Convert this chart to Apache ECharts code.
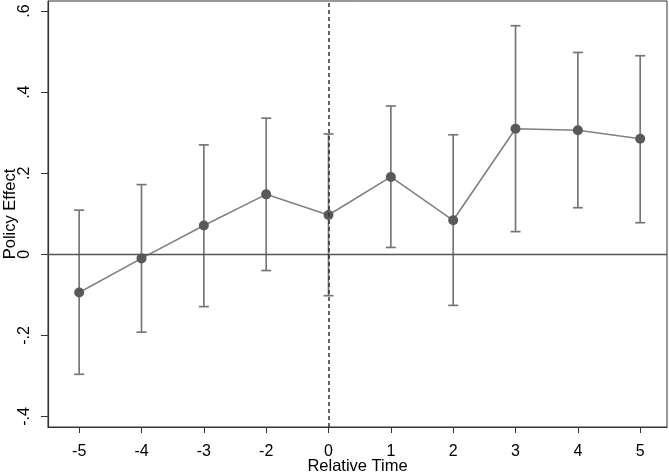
<!DOCTYPE html>
<html>
<head>
<meta charset="utf-8">
<script src="https://cdn.jsdelivr.net/npm/echarts@6/dist/echarts.min.js"></script>
<style>html,body{margin:0;padding:0;background:#fff;}#chart{width:669px;height:473px;}</style>
</head>
<body>
<div id="chart"></div>
<script>
const categories = ['-5','-4','-3','-2','0','1','2','3','4','5'];
const estimate = [-0.094, -0.010, 0.071, 0.148, 0.097, 0.191, 0.084, 0.310, 0.306, 0.285];
const upper    = [0.109, 0.172, 0.270, 0.336, 0.297, 0.366, 0.295, 0.564, 0.498, 0.490];
const lower    = [-0.296, -0.192, -0.129, -0.040, -0.102, 0.017, -0.126, 0.056, 0.115, 0.078];
const yTicks = [-0.4, -0.2, 0, 0.2, 0.4, 0.6];
const eventIndex = categories.indexOf('0');

const idx = categories.map((c, i) => i);
const lineData = idx.map(i => [i, estimate[i]]);
const ciData = idx.map(i => [i, lower[i], upper[i]]);

function stataFmt(v) {
  const r = Math.round(v * 10) / 10;
  if (r === 0) return '0';
  return String(r).replace('0.', '.');
}

const font = 'Liberation Sans, Arial, sans-serif';
const chart = echarts.init(document.getElementById('chart'));
chart.setOption({
  animation: false,
  grid: { left: 48, right: 2, top: 1, bottom: 46, outerBoundsMode: 'none', containLabel: false,
          show: true, borderColor: '#333', borderWidth: 1, backgroundColor: '#fff' },
  xAxis: {
    type: 'value', min: -0.5, max: 9.43,
    name: 'Relative Time', nameLocation: 'middle', nameGap: 31, nameMoveOverlap: false,
    nameTextStyle: { fontFamily: font, fontSize: 16.5, color: '#000' },
    axisLine: { show: true, onZero: false, lineStyle: { color: '#333', width: 1.2 } },
    axisTick: { show: true, customValues: idx, length: 6, lineStyle: { color: '#333' } },
    axisLabel: { customValues: idx, formatter: v => categories[Math.round(v)], fontFamily: font, fontSize: 16, color: '#000', margin: 17 },
    splitLine: { show: false }
  },
  yAxis: {
    type: 'value', min: -0.426, max: 0.625,
    name: 'Policy Effect', nameLocation: 'middle', nameGap: 29, nameRotate: 90, nameMoveOverlap: false,
    nameTextStyle: { fontFamily: font, fontSize: 16.5, color: '#000' },
    axisLine: { show: true, onZero: false, lineStyle: { color: '#333', width: 1.2 } },
    axisTick: { show: true, customValues: yTicks, length: 7, lineStyle: { color: '#333' } },
    axisLabel: { customValues: yTicks, formatter: stataFmt, rotate: 90, fontFamily: font, fontSize: 16, color: '#000', margin: 15 },
    splitLine: { show: false }
  },
  series: [
    {
      type: 'custom',
      data: ciData,
      z: 2,
      renderItem: function (params, api) {
        const x = api.value(0);
        const lo = api.coord([x, api.value(1)]);
        const hi = api.coord([x, api.value(2)]);
        const cap = 5;
        const style = { stroke: '#777', lineWidth: 1.7 };
        return {
          type: 'group',
          children: [
            { type: 'line', shape: { x1: lo[0], y1: lo[1], x2: hi[0], y2: hi[1] }, style: style },
            { type: 'line', shape: { x1: lo[0] - cap, y1: lo[1], x2: lo[0] + cap, y2: lo[1] }, style: style },
            { type: 'line', shape: { x1: hi[0] - cap, y1: hi[1], x2: hi[0] + cap, y2: hi[1] }, style: style }
          ]
        };
      },
      markLine: {
        silent: true, symbol: 'none', label: { show: false },
        data: [
          { yAxis: 0, lineStyle: { color: '#555', type: 'solid', width: 1.4 } },
          { xAxis: eventIndex, lineStyle: { color: '#333', type: [4, 3], width: 1.5 } }
        ]
      }
    },
    {
      type: 'line',
      data: lineData,
      z: 3,
      symbol: 'circle', symbolSize: 10,
      lineStyle: { color: '#808080', width: 1.6 },
      itemStyle: { color: '#595959' }
    }
  ]
});
</script>
</body>
</html>
